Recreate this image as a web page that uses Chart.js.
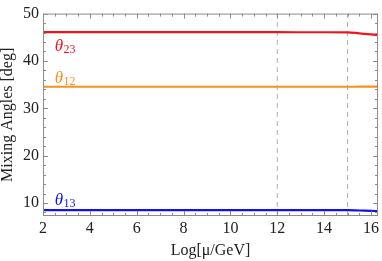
<!DOCTYPE html>
<html>
<head>
<meta charset="utf-8">
<script src="https://cdn.jsdelivr.net/npm/chart.js@4.4.1/dist/chart.umd.min.js"></script>
<style>
  html, body { margin: 0; padding: 0; background: #fff; }
  #wrap { width: 382px; height: 261px; }
</style>
</head>
<body>
<div id="wrap"><canvas id="chart"></canvas></div>
<script>
// log10(mu / GeV) sample points
const logMu = [2, 4, 6, 8, 10, 12, 14, 15, 15.5, 16, 16.3];
// mixing angles in degrees
const theta23 = [46.08, 46.08, 46.08, 46.08, 46.08, 46.07, 46.06, 46.05, 45.82, 45.6, 45.45];
const theta12 = [34.55, 34.55, 34.55, 34.55, 34.55, 34.55, 34.55, 34.55, 34.56, 34.57, 34.58];
const theta13 = [8.5, 8.5, 8.5, 8.5, 8.5, 8.5, 8.5, 8.5, 8.42, 8.35, 8.3];
// thresholds shown as dashed lines
const thresholds = [12, 15];
const xTicks = [2, 4, 6, 8, 10, 12, 14, 16];
const yTicks = [10, 20, 30, 40, 50];
const xRange = [2, 16.3];
const yRange = [7.26, 50];

const series = [
    { name: '23', values: theta23, color: '#f2141c' },
    { name: '12', values: theta12, color: '#f7901e' },
    { name: '13', values: theta13, color: '#1010f0' }
];

const serif = "'Liberation Serif', 'DejaVu Serif', serif";

const datasets = series.map(s => ({
    data: logMu.map((x, i) => ({ x: x, y: s.values[i] })),
    borderColor: s.color,
    borderWidth: 2.2,
    pointRadius: 0,
    cubicInterpolationMode: 'monotone',
    fill: false
}));
thresholds.forEach(t => {
    datasets.push({
        data: [{ x: t, y: yRange[0] }, { x: t, y: yRange[1] }],
        borderColor: '#b0b0b0',
        borderWidth: 1,
        borderDash: [5, 4],
        pointRadius: 0
    });
});

// frame, inward ticks and the theta labels
const framePlugin = {
    id: 'frame',
    afterDatasetsDraw(chart) {
        const { ctx, chartArea: a, scales } = chart;
        const xs = scales.x, ys = scales.y;
        ctx.save();
        ctx.strokeStyle = '#8c8c8c';
        ctx.lineWidth = 1;
        ctx.strokeRect(a.left + 0.5, a.top + 0.5, a.right - a.left - 1, a.bottom - a.top - 1);
        ctx.beginPath();
        for (let v = 2; v <= 16.3; v += 0.5) {
            const px = Math.round(xs.getPixelForValue(v)) + 0.5;
            const len = (v % 2 === 0) ? 5 : 3;
            ctx.moveTo(px, a.bottom); ctx.lineTo(px, a.bottom - len);
            ctx.moveTo(px, a.top); ctx.lineTo(px, a.top + len);
        }
        for (let v = 8; v <= 50; v += 2) {
            const py = Math.round(ys.getPixelForValue(v)) + 0.5;
            const len = (v % 10 === 0) ? 5 : 3;
            ctx.moveTo(a.left, py); ctx.lineTo(a.left + len, py);
            ctx.moveTo(a.right, py); ctx.lineTo(a.right - len, py);
        }
        ctx.stroke();

        const labelPos = { '23': 42.0, '12': 35.4, '13': 9.63 };
        series.forEach(s => {
            const x = xs.getPixelForValue(2.5);
            const y = ys.getPixelForValue(labelPos[s.name]);
            ctx.fillStyle = s.color;
            ctx.textBaseline = 'alphabetic';
            ctx.textAlign = 'left';
            ctx.font = 'italic 17px ' + serif;
            ctx.fillText('θ', x, y);
            const w = ctx.measureText('θ').width;
            ctx.font = '12px ' + serif;
            ctx.fillText(s.name, x + w + 0.5, y + 2);
        });
        ctx.restore();
    }
};

new Chart(document.getElementById('chart'), {
    type: 'line',
    data: { datasets: datasets },
    plugins: [framePlugin],
    options: {
        responsive: true,
        maintainAspectRatio: false,
        animation: false,
        layout: { padding: { top: 8, right: 1, left: 0, bottom: 0 } },
        plugins: { legend: { display: false }, tooltip: { enabled: false } },
        scales: {
            x: {
                type: 'linear',
                min: xRange[0],
                max: xRange[1],
                afterBuildTicks: s => { s.ticks = xTicks.map(v => ({ value: v })); },
                afterFit: s => { s.height = 45; },
                grid: { display: false, drawTicks: false },
                border: { display: false },
                ticks: { color: '#222', padding: 3, font: { family: serif, size: 16 }, maxRotation: 0 },
                title: {
                    display: true,
                    text: 'Log[μ/GeV]',
                    color: '#222',
                    font: { family: serif, size: 16, lineHeight: 1 },
                    padding: { top: 0, bottom: 2 }
                }
            },
            y: {
                type: 'linear',
                min: yRange[0],
                max: yRange[1],
                afterBuildTicks: s => { s.ticks = yTicks.map(v => ({ value: v })); },
                afterFit: s => { s.width = 43; },
                grid: { display: false, drawTicks: false },
                border: { display: false },
                ticks: { color: '#222', padding: 4, font: { family: serif, size: 16 } },
                title: {
                    display: true,
                    text: 'Mixing Angles [deg]',
                    color: '#222',
                    font: { family: serif, size: 16, lineHeight: 1 },
                    padding: { top: 0, bottom: 0 }
                }
            }
        }
    }
});
</script>
</body>
</html>
